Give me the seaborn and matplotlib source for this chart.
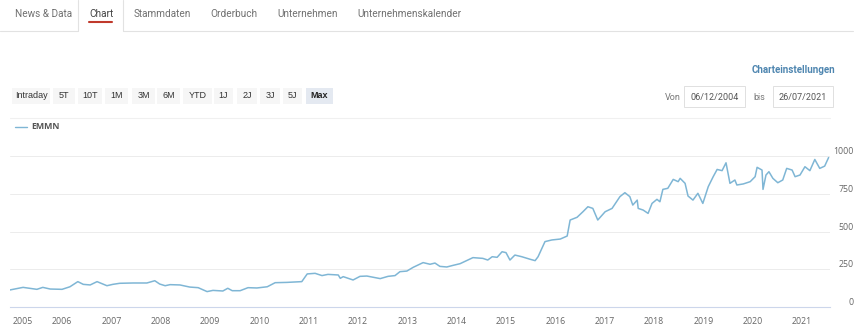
import matplotlib
matplotlib.use("Agg")
import matplotlib.pyplot as plt
from matplotlib.patches import Rectangle
from matplotlib.lines import Line2D
import seaborn as sns
import pandas as pd

# ---------------- data ----------------
years = [2004.93, 2005.21, 2005.49, 2005.61, 2005.76, 2006.00, 2006.16, 2006.32, 2006.43, 2006.57,
         2006.71, 2006.91, 2007.03, 2007.17, 2007.44, 2007.72, 2007.88, 2007.98, 2008.09, 2008.19,
         2008.39, 2008.59, 2008.76, 2008.94, 2009.06, 2009.26, 2009.36, 2009.45, 2009.61, 2009.77,
         2009.95, 2010.16, 2010.32, 2010.56, 2010.86, 2010.97, 2011.13, 2011.27, 2011.39, 2011.60,
         2011.64, 2011.70, 2011.90, 2012.04, 2012.18, 2012.45, 2012.61, 2012.75, 2012.85, 2012.99,
         2013.12, 2013.32, 2013.46, 2013.56, 2013.66, 2013.80, 2013.93, 2014.07, 2014.33, 2014.53,
         2014.63, 2014.72, 2014.82, 2014.92, 2015.00, 2015.08, 2015.18, 2015.32, 2015.49, 2015.59,
         2015.65, 2015.79, 2015.93, 2016.10, 2016.24, 2016.30, 2016.44, 2016.56, 2016.66, 2016.76,
         2016.86, 2017.01, 2017.15, 2017.31, 2017.41, 2017.51, 2017.57, 2017.66, 2017.68, 2017.78,
         2017.88, 2017.96, 2018.06, 2018.12, 2018.18, 2018.28, 2018.39, 2018.49, 2018.53, 2018.63,
         2018.69, 2018.79, 2018.89, 2018.99, 2019.10, 2019.20, 2019.28, 2019.38, 2019.46, 2019.54,
         2019.64, 2019.68, 2019.81, 2019.95, 2020.05, 2020.09, 2020.19, 2020.21, 2020.27, 2020.33,
         2020.41, 2020.51, 2020.61, 2020.69, 2020.80, 2020.86, 2020.96, 2021.06, 2021.16, 2021.26,
         2021.36, 2021.46, 2021.54]
emmn = [112, 130, 117, 130, 119, 117, 134, 168, 150, 146,
        168, 141, 150, 157, 159, 159, 174, 152, 141, 148,
        146, 132, 128, 102, 110, 106, 124, 108, 108, 128,
        126, 134, 161, 163, 168, 219, 223, 208, 216, 212,
        190, 201, 179, 203, 205, 188, 203, 208, 234, 238,
        263, 294, 283, 291, 269, 265, 276, 287, 327, 322,
        311, 333, 329, 366, 360, 311, 344, 333, 316, 307,
        333, 433, 444, 450, 470, 576, 594, 631, 664, 653,
        576, 631, 653, 731, 757, 731, 675, 708, 653, 642,
        620, 686, 713, 697, 779, 786, 845, 830, 852, 819,
        735, 708, 753, 686, 797, 863, 911, 903, 955, 819,
        841, 808, 815, 830, 863, 925, 907, 779, 874, 896,
        852, 823, 841, 918, 907, 863, 874, 929, 903, 977,
        918, 933, 990]
x_ticks = list(range(2005, 2022))
y_ticks = [0, 250, 500, 750, 1000]
tabs = ["News & Data", "Chart", "Stammdaten", "Orderbuch", "Unternehmen", "Unternehmenskalender"]
buttons = ["Intraday", "5T", "10T", "1M", "3M", "6M", "YTD", "1J", "2J", "3J", "5J", "Max"]
date_from = "06/12/2004"
date_to = "26/07/2021"
series_name = "EMMN"

df = pd.DataFrame({"year": years, "value": emmn})

# ---------------- figure ----------------
sns.set_style("white")
UI = ["Roboto", "DejaVu Sans"]
plt.rcParams["font.family"] = ["Open Sans", "DejaVu Sans"]
W, H = 860, 330
fig = plt.figure(figsize=(W / 100, H / 100), dpi=100)
fig.patch.set_facecolor("white")


def fx(x):
    return x / W


def fy(y):
    return 1 - y / H


# ---------------- tabs ----------------
tab_x = [15, 89, 134, 210, 277, 357]
for name, x in zip(tabs, tab_x):
    fig.text(fx(x), fy(14), name, fontsize=7.2, color="#444444" if name == "Chart" else "#707070",
             ha="left", va="center", family=UI)
# bottom border of tab bar
fig.add_artist(Line2D([fx(0), fx(78)], [fy(31), fy(31)], color="#e2e2e2", lw=0.8))
fig.add_artist(Line2D([fx(123), fx(853)], [fy(31), fy(31)], color="#e2e2e2", lw=0.8))
# active tab borders
fig.add_artist(Line2D([fx(78), fx(78)], [fy(0), fy(31)], color="#e2e2e2", lw=0.8))
fig.add_artist(Line2D([fx(123), fx(123)], [fy(0), fy(31)], color="#e2e2e2", lw=0.8))
# underline of active tab
fig.add_artist(Line2D([fx(89), fx(112)], [fy(22), fy(22)], color="#c0392b", lw=1.5))

# ---------------- range buttons ----------------
btn_boxes = [(12, 50), (53, 75), (78, 102), (105, 128), (132, 155), (157, 180), (183, 212),
             (214, 233), (237, 257), (260, 280), (283, 302), (306, 333)]
for label, (x0, x1) in zip(buttons, btn_boxes):
    active = label == "Max"
    fig.add_artist(Rectangle((fx(x0), fy(104)), fx(x1 - x0), (104 - 88) / H,
                             facecolor="#e4e9f1" if active else "#f6f6f6", edgecolor="none"))
    fig.text(fx((x0 + x1) / 2), fy(96), label, fontsize=6.5, color="#222222" if active else "#333333",
             ha="center", va="center", fontweight="bold" if active else "normal",
             family=["Liberation Sans", "DejaVu Sans"])

# ---------------- right controls ----------------
fig.text(fx(835), fy(70), "Charteinstellungen", fontsize=7.0, color="#4f86b0", fontweight="bold",
         ha="right", va="center", family=UI)
fig.text(fx(665), fy(97), "Von", fontsize=6.5, color="#777777", ha="left", va="center", family=UI)
fig.text(fx(753), fy(97), "bis", fontsize=6.5, color="#777777", ha="left", va="center", family=UI)
for (x0, x1), txt in [((684, 745), date_from), ((773, 833), date_to)]:
    fig.add_artist(Rectangle((fx(x0), fy(107)), fx(x1 - x0), (107 - 86) / H,
                             facecolor="white", edgecolor="#e0e0e0", lw=0.7))
    fig.text(fx((x0 + x1) / 2), fy(97), txt, fontsize=6.5, color="#555555", ha="center", va="center",
             family=UI)

# separator line
fig.add_artist(Line2D([fx(10), fx(830)], [fy(118), fy(118)], color="#f0f0f0", lw=0.8))

# legend
line_color = "#7fb6d5"
fig.add_artist(Line2D([fx(15), fx(27)], [fy(127), fy(127)], color=line_color, lw=1.0))
fig.text(fx(31), fy(127), series_name, fontsize=6.3, color="#555555", fontweight="bold",
         ha="left", va="center")

# ---------------- chart ----------------
ax = fig.add_axes([fx(10), fy(307), fx(820), (307 - 156) / H])
sns.lineplot(data=df, x="year", y="value", ax=ax, color=line_color, linewidth=1.1, legend=False)
ax.set_xlim(2004.945, 2021.568)
ax.set_ylim(0, 1000)
ax.set_xlabel("")
ax.set_ylabel("")
ax.set_xticks(x_ticks)
ax.set_xticklabels([str(y) for y in x_ticks])
ax.set_yticks(y_ticks)
ax.set_yticklabels([str(v) for v in y_ticks])
ax.yaxis.tick_right()
ax.tick_params(axis="y", length=0, labelsize=6.3, labelcolor="#666666", pad=17)
for lab in ax.get_yticklabels():
    lab.set_horizontalalignment("right")
    lab.set_verticalalignment("bottom")
ax.tick_params(axis="x", length=5, width=0.7, color="#ccd6eb", labelsize=6.3, labelcolor="#666666", pad=2)
ax.get_xticklabels()[0].set_horizontalalignment("left")
ax.grid(axis="y", color="#ececec", lw=0.7)
ax.set_axisbelow(True)
for s in ["top", "left", "right"]:
    ax.spines[s].set_visible(False)
ax.spines["bottom"].set_color("#ccd6eb")
ax.spines["bottom"].set_linewidth(0.8)
ax.patch.set_alpha(0)

fig.savefig("out.png", dpi=100, facecolor="white")
